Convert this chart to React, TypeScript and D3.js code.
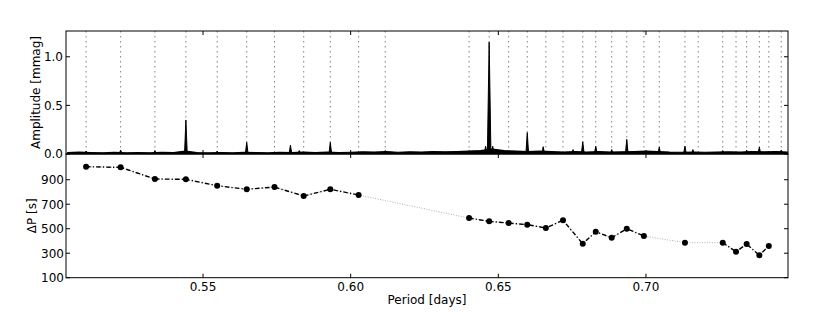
import * as d3 from 'd3'

// periods (days) of the identified modes, marked by dotted lines in the top panel
const modePeriods = [
  0.5104, 0.5221, 0.5337, 0.5442, 0.5548, 0.5648, 0.5742, 0.5841, 0.5931, 0.6027,
  0.6117, 0.6401, 0.6469, 0.6535, 0.6598, 0.6661, 0.6719, 0.6786, 0.6830, 0.6884,
  0.6935, 0.6993, 0.7045, 0.7132, 0.7177, 0.7260, 0.7305, 0.7341, 0.7384, 0.7416,
  0.7458,
]

// period spacing points (bottom panel)
const dpPeriods = [
  0.5104, 0.5221, 0.5337, 0.5442, 0.5548, 0.5648, 0.5742, 0.5841, 0.5931, 0.6027,
  0.6401, 0.6469, 0.6535, 0.6598, 0.6661, 0.6719, 0.6786, 0.6830, 0.6884, 0.6935,
  0.6993, 0.7132, 0.7260, 0.7305, 0.7341, 0.7384, 0.7416,
]
const dpValues = [
  1006, 1001, 906, 903, 851, 822, 840, 767, 822, 775,
  587, 560, 546, 533, 506, 569, 377, 475, 426, 500,
  440, 386, 386, 312, 375, 283, 359,
]
// consecutive runs (joined with dash-dot)
const dpRun = [
  0, 0, 0, 0, 0, 0, 0, 0, 0, 0,
  1, 1, 1, 1, 1, 1, 1, 1, 1, 1,
  1, 2, 3, 3, 3, 3, 3,
]

// amplitude spectrum: noise floor + peaks
const noisePeriods = [
  0.504, 0.508, 0.512, 0.516, 0.520, 0.524, 0.528, 0.532, 0.536, 0.540,
  0.544, 0.548, 0.552, 0.556, 0.560, 0.564, 0.568, 0.572, 0.576, 0.580,
  0.584, 0.588, 0.592, 0.596, 0.600, 0.604, 0.608, 0.612, 0.616, 0.620,
  0.624, 0.628, 0.632, 0.636, 0.640, 0.644, 0.648, 0.652, 0.656, 0.660,
  0.664, 0.668, 0.672, 0.676, 0.680, 0.684, 0.688, 0.692, 0.696, 0.700,
  0.704, 0.708, 0.712, 0.716, 0.720, 0.724, 0.728, 0.732, 0.736, 0.740,
  0.744, 0.748,
]
const noiseAmps = [
  0.015, 0.02, 0.015, 0.012, 0.018, 0.012, 0.015, 0.012, 0.018, 0.015,
  0.03, 0.015, 0.012, 0.015, 0.012, 0.018, 0.015, 0.012, 0.018, 0.015,
  0.02, 0.015, 0.02, 0.015, 0.018, 0.022, 0.02, 0.025, 0.018, 0.022,
  0.02, 0.025, 0.022, 0.025, 0.03, 0.035, 0.05, 0.035, 0.03, 0.025,
  0.03, 0.025, 0.02, 0.025, 0.02, 0.025, 0.02, 0.022, 0.025, 0.03,
  0.025, 0.02, 0.018, 0.02, 0.018, 0.02, 0.022, 0.02, 0.025, 0.022,
  0.025, 0.02,
]
const peakPeriods = [
  0.5104, 0.5221, 0.5337, 0.5442, 0.5548, 0.5648, 0.5796, 0.5826, 0.5931, 0.6117,
  0.6401, 0.6457, 0.6469, 0.6481, 0.6598, 0.6652, 0.6753, 0.6786, 0.6830, 0.6884,
  0.6935, 0.7045, 0.7132, 0.7159, 0.7260, 0.7341, 0.7384, 0.7458,
]
const peakAmps = [
  0.03, 0.04, 0.035, 0.35, 0.03, 0.12, 0.09, 0.035, 0.12, 0.035,
  0.035, 0.08, 1.15, 0.08, 0.22, 0.075, 0.045, 0.125, 0.08, 0.045,
  0.15, 0.07, 0.08, 0.045, 0.035, 0.04, 0.07, 0.04,
]

const xTicks = [0.55, 0.6, 0.65, 0.7]
const ampTicks = [0, 0.5, 1.0]
const dpTicks = [100, 300, 500, 700, 900]

const font = '"DejaVu Sans", sans-serif'

export default function App() {
  const left = 66
  const right = 788
  const top = 31
  const mid = 154
  const bottom = 277.7

  const x = d3.scaleLinear().domain([0.5036, 0.7481]).range([left, right])
  const yA = d3.scaleLinear().domain([0, 1.265]).range([mid, top])
  const yD = d3.scaleLinear().domain([100, 1110]).range([bottom, mid])

  const noise = noisePeriods.map((p, i) => [p, noiseAmps[i]] as [number, number])
  const noiseArea = d3.area<[number, number]>()
    .x(d => x(d[0]))
    .y0(yA(0))
    .y1(d => yA(d[1]))(noise)
  const noiseLine = d3.line<[number, number]>()
    .x(d => x(d[0]))
    .y(d => yA(d[1]))(noise)

  const spike = d3.line<[number, number]>().x(d => x(d[0])).y(d => yA(d[1]))
  const peaks = peakPeriods.map((p, i) => {
    const w = peakAmps[i] > 0.5 ? 0.0006 : 0.00045
    return spike([[p - w, 0.005], [p, peakAmps[i]], [p + w, 0.005]])
  })

  const pts = dpPeriods.map((p, i) => ({ p, v: dpValues[i], run: dpRun[i] }))
  const dpLine = d3.line<{ p: number; v: number }>().x(d => x(d.p)).y(d => yD(d.v))
  const runs = d3.groups(pts, d => d.run).map(g => g[1])

  const tick = 4

  return (
    <svg width={830} height={312} style={{ position: 'absolute', left: 0, top: 0, background: '#fff' }}>
      <defs>
        <clipPath id="topClip">
          <rect x={left} y={top} width={right - left} height={mid - top} />
        </clipPath>
      </defs>

      {/* top panel: mode markers */}
      {modePeriods.map((p, i) => (
        <line key={'m' + i} x1={x(p)} x2={x(p)} y1={top} y2={mid}
          stroke="#808080" strokeWidth={1} strokeDasharray="1.5,3.5" />
      ))}

      {/* amplitude spectrum */}
      <g clipPath="url(#topClip)">
        <path d={noiseArea ?? ''} fill="#000" />
        <path d={noiseLine ?? ''} fill="none" stroke="#000" strokeWidth={1.2} />
        {peaks.map((d, i) => (
          <path key={'p' + i} d={d ?? ''} fill="#000" stroke="#000" strokeWidth={1} strokeLinejoin="miter" />
        ))}
      </g>

      {/* bottom panel: period spacing */}
      <path d={dpLine(pts) ?? ''} fill="none" stroke="#b0b0b0" strokeWidth={1} strokeDasharray="1,1.5" />
      {runs.map((r, i) => r.length > 1 && (
        <path key={'r' + i} d={dpLine(r) ?? ''} fill="none" stroke="#000" strokeWidth={1.4}
          strokeDasharray="4.5,2.2,1.2,2.2" />
      ))}
      {pts.map((d, i) => (
        <circle key={'c' + i} cx={x(d.p)} cy={yD(d.v)} r={3} fill="#000" />
      ))}

      {/* frames */}
      <rect x={left} y={top} width={right - left} height={mid - top} fill="none" stroke="#000" strokeWidth={1} />
      <rect x={left} y={mid} width={right - left} height={bottom - mid} fill="none" stroke="#000" strokeWidth={1} />

      {/* x ticks on all horizontal edges, inward */}
      {xTicks.map((t, i) => (
        <g key={'xt' + i}>
          <line x1={x(t)} x2={x(t)} y1={top} y2={top + tick} stroke="#000" />
          <line x1={x(t)} x2={x(t)} y1={mid} y2={mid - tick} stroke="#000" />
          <line x1={x(t)} x2={x(t)} y1={mid} y2={mid + tick} stroke="#000" />
          <line x1={x(t)} x2={x(t)} y1={bottom} y2={bottom - tick} stroke="#000" />
          <text x={x(t)} y={291} textAnchor="middle" fontFamily={font} fontSize={12}>
            {t.toFixed(2)}
          </text>
        </g>
      ))}

      {/* amplitude ticks */}
      {ampTicks.map((t, i) => (
        <g key={'at' + i}>
          <line x1={left} x2={left + tick} y1={yA(t)} y2={yA(t)} stroke="#000" />
          <line x1={right} x2={right - tick} y1={yA(t)} y2={yA(t)} stroke="#000" />
          <text x={63} y={yA(t)} dy="0.36em" textAnchor="end" fontFamily={font} fontSize={12}>
            {t.toFixed(1)}
          </text>
        </g>
      ))}

      {/* period spacing ticks */}
      {dpTicks.map((t, i) => (
        <g key={'dt' + i}>
          <line x1={left} x2={left + tick} y1={yD(t)} y2={yD(t)} stroke="#000" />
          <line x1={right} x2={right - tick} y1={yD(t)} y2={yD(t)} stroke="#000" />
          <text x={64} y={yD(t)} dy="0.36em" textAnchor="end" fontFamily={font} fontSize={12}>
            {t}
          </text>
        </g>
      ))}

      {/* axis labels */}
      <text transform={`translate(40,${(top + mid) / 2}) rotate(-90)`} textAnchor="middle"
        fontFamily={font} fontSize={12}>Amplitude [mmag]</text>
      <text transform={`translate(36,${(mid + bottom) / 2}) rotate(-90)`} textAnchor="middle"
        fontFamily={font} fontSize={12}>ΔP [s]</text>
      <text x={(left + right) / 2} y={304} textAnchor="middle" fontFamily={font} fontSize={12}>
        Period [days]
      </text>
    </svg>
  )
}
